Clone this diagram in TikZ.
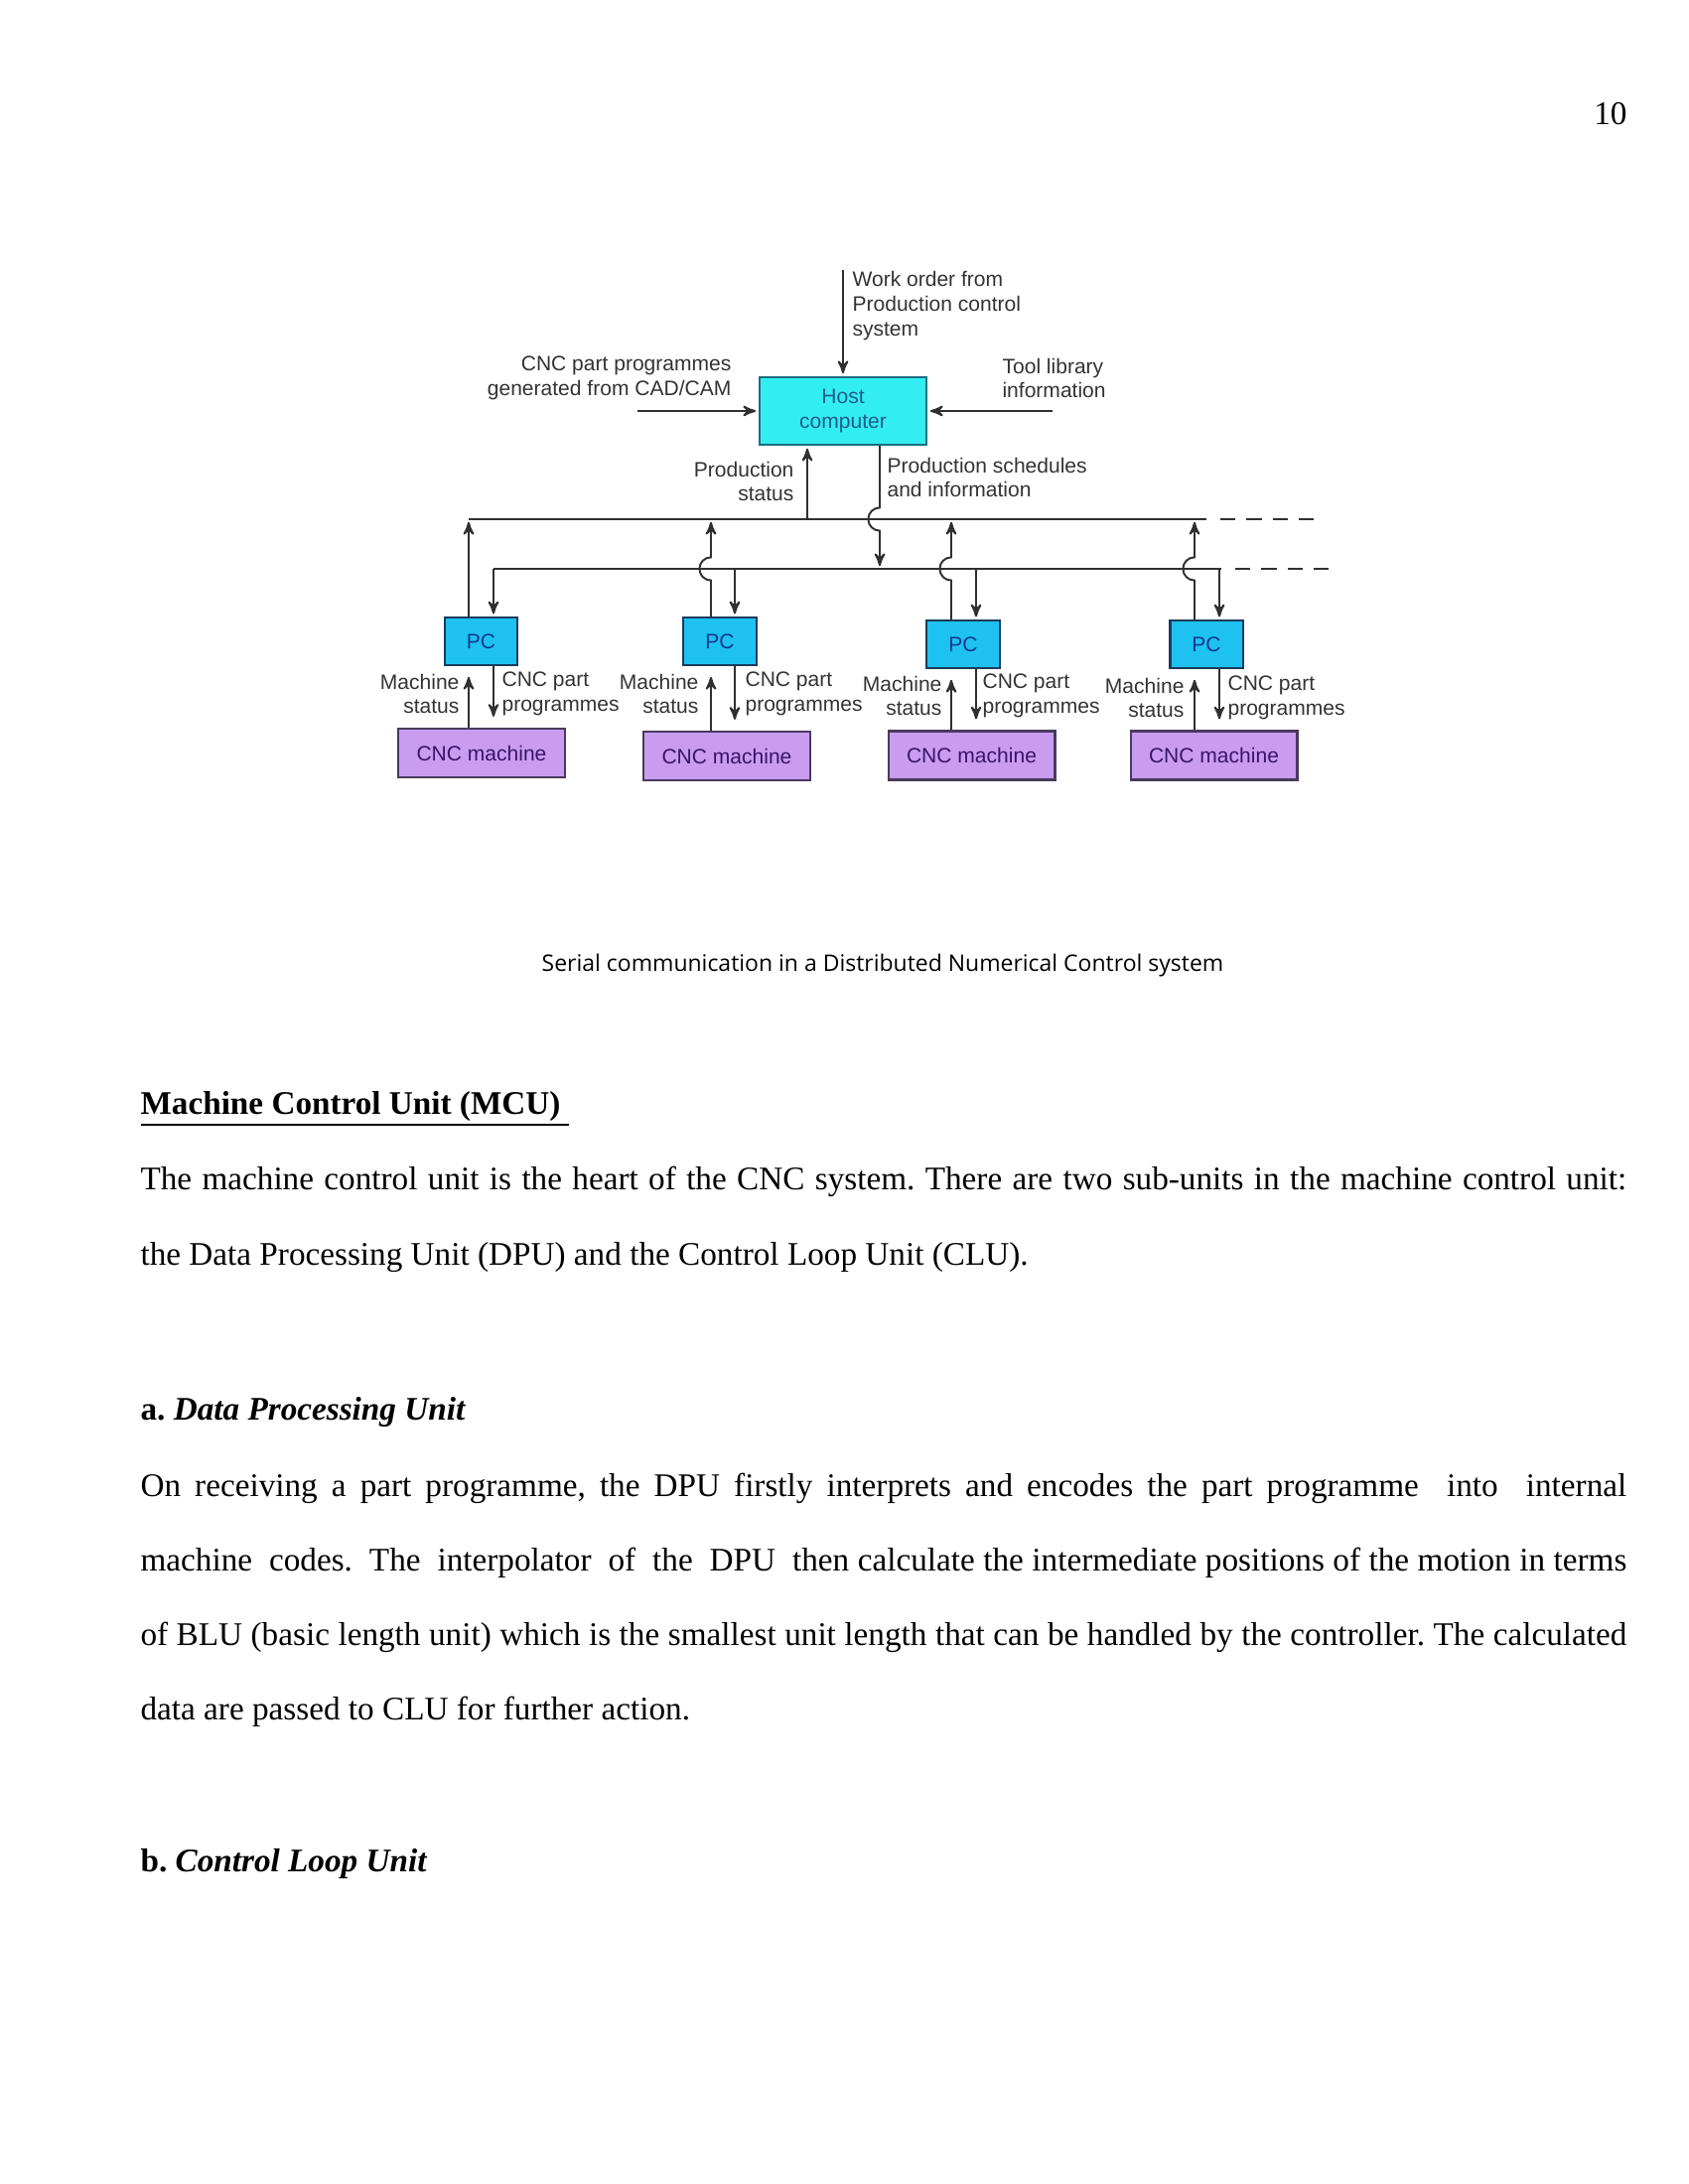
\documentclass[tikz,border=0pt]{standalone}
\usepackage{fontspec}
\setmainfont{Liberation Serif}
\newfontfamily\diagfont{Liberation Sans}
\newfontfamily\capfont{Open Sans}
\usepackage{tikz}
\usetikzlibrary{arrows}
\frenchspacing

\definecolor{linegray}{HTML}{303030}
\definecolor{textgray}{HTML}{333333}
\definecolor{hostfill}{HTML}{33EEF0}
\definecolor{hostedge}{HTML}{1A6E80}
\definecolor{hosttext}{HTML}{1F5C8A}
\definecolor{pcfill}{HTML}{1EC2F0}
\definecolor{pcedge}{HTML}{1A3C5C}
\definecolor{pctext}{HTML}{0C3A8C}
\definecolor{cncfill}{HTML}{C99CF0}
\definecolor{cncedge}{HTML}{4A3A5E}
\definecolor{cnctext}{HTML}{3A1466}

\begin{document}
\begin{tikzpicture}[x=0.0127cm,y=-0.0127cm,>=stealth',shorten >=1pt,
  wire/.style={draw=linegray,line width=0.7pt},
  lbl/.style={font=\diagfont\fontsize{7.6}{9}\selectfont,text=textgray,inner sep=0pt},
  host node/.style={draw=hostedge,fill=hostfill,line width=0.8pt,minimum width=2.13cm,
    minimum height=0.86cm,inner sep=0pt,align=center,
    font=\diagfont\fontsize{7.6}{9}\selectfont,text=hosttext},
  pc node/.style={draw=pcedge,fill=pcfill,line width=0.8pt,minimum width=0.93cm,
    minimum height=0.6cm,inner sep=0pt,font=\diagfont\fontsize{7.6}{9}\selectfont,text=pctext},
  cnc node/.style={draw=cncedge,fill=cncfill,line width=0.8pt,minimum width=2.13cm,
    minimum height=0.62cm,inner sep=0pt,font=\diagfont\fontsize{7.6}{9}\selectfont,text=cnctext},
  body/.style={font=\fontsize{12}{14}\selectfont,inner sep=0pt,anchor=base west}]

  \fill[white] (0,0) rectangle (1700,2200);
  \useasboundingbox (0,0) rectangle (1700,2200);

  \node[body,anchor=base east] (pageno) at (1639,126) {10};

  % host and the lines into it
  \node[host node] (host) at (849,414) {Host\\computer};
  \coordinate (wo) at (849,272);
  \coordinate (cad) at (642,414);
  \coordinate (tool) at (1060,414);
  \coordinate (pst) at (813,523);
  \coordinate (ps) at (886,573);

  \node[lbl,anchor=west,align=left] (wolbl) at (858,308) {Work order from\\Production control\\system};
  \node[lbl,anchor=east,align=right] (cadlbl) at (737,381) {CNC part programmes\\generated from CAD/CAM};
  \node[lbl,anchor=west,align=left] (toollbl) at (1009,381) {Tool library\\information};
  \node[lbl,anchor=east,align=right] (pstlbl) at (800,485) {Production\\status};
  \node[lbl,anchor=west,align=left] (pslbl) at (893,481) {Production schedules\\and information};

  % PCs and CNC machines
  \node[pc node] (pc1) at (484.5,646) {PC};
  \node[pc node] (pc2) at (725,646) {PC};
  \node[pc node] (pc3) at (970,649) {PC};
  \node[pc node] (pc4) at (1215,649) {PC};

  \node[cnc node] (cnc1) at (485,758.5) {CNC machine};
  \node[cnc node] (cnc2) at (732,761.5) {CNC machine};
  \node[cnc node] (cnc3) at (978.5,761) {CNC machine};
  \node[cnc node] (cnc4) at (1222.5,761) {CNC machine};

  % bus taps
  \coordinate (u1) at (472,523);
  \coordinate (u2) at (716,523);
  \coordinate (u3) at (958,523);
  \coordinate (u4) at (1203,523);
  \coordinate (d1) at (497,573);
  \coordinate (d2) at (740,573);
  \coordinate (d3) at (983,573);
  \coordinate (d4) at (1228,573);
  \coordinate (bus1e) at (1218,523);
  \coordinate (bus1d) at (1229,523);
  \coordinate (bus1x) at (1327,523);
  \coordinate (bus2e) at (1233,573);
  \coordinate (bus2d) at (1244,573);
  \coordinate (bus2x) at (1348,573);

  \draw[wire] (u1) -- (bus1e);
  \draw[wire] (d1) -- (bus2e);
  \draw[wire,dash pattern=on 5.5pt off 4pt] (bus1d) -- (bus1x);
  \draw[wire,dash pattern=on 5.5pt off 4pt] (bus2d) -- (bus2x);

  \draw[wire,->] (wo) -- (host.north);
  \draw[wire,->] (cad) -- (host.west);
  \draw[wire,->] (tool) -- (host.east);
  \draw[wire,->] (pst) -- (host.south -| pst);
  \draw[wire,->] (host.south -| ps) -- ([yshift=4.2pt]ps |- u1)
    arc[start angle=90,end angle=270,radius=4.2pt] -- (ps);

  % PC to bus
  \draw[wire,->] (pc1.north -| u1) -- (u1);
  \draw[wire,->] (pc2.north -| u2) -- ([yshift=-4.2pt]u2 |- d1)
    arc[start angle=270,end angle=90,radius=4.2pt] -- (u2);
  \draw[wire,->] (pc3.north -| u3) -- ([yshift=-4.2pt]u3 |- d1)
    arc[start angle=270,end angle=90,radius=4.2pt] -- (u3);
  \draw[wire,->] (pc4.north -| u4) -- ([yshift=-4.2pt]u4 |- d1)
    arc[start angle=270,end angle=90,radius=4.2pt] -- (u4);
  \draw[wire,->] (d1) -- (pc1.north -| d1);
  \draw[wire,->] (d2) -- (pc2.north -| d2);
  \draw[wire,->] (d3) -- (pc3.north -| d3);
  \draw[wire,->] (d4) -- (pc4.north -| d4);

  % PC to CNC machine
  \draw[wire,->,shorten >=4pt] (cnc1.north -| u1) -- (pc1.south -| u1);
  \draw[wire,->,shorten >=4pt] (pc1.south -| d1) -- (cnc1.north -| d1);
  \draw[wire,->,shorten >=4pt] (cnc2.north -| u2) -- (pc2.south -| u2);
  \draw[wire,->,shorten >=4pt] (pc2.south -| d2) -- (cnc2.north -| d2);
  \draw[wire,->,shorten >=4pt] (cnc3.north -| u3) -- (pc3.south -| u3);
  \draw[wire,->,shorten >=4pt] (pc3.south -| d3) -- (cnc3.north -| d3);
  \draw[wire,->,shorten >=4pt] (cnc4.north -| u4) -- (pc4.south -| u4);
  \draw[wire,->,shorten >=4pt] (pc4.south -| d4) -- (cnc4.north -| d4);

  \node[lbl,anchor=east,align=right] (ms1) at (463,699) {Machine\\status};
  \node[lbl,anchor=east,align=right] (ms2) at (704,699) {Machine\\status};
  \node[lbl,anchor=east,align=right] (ms3) at (949,701) {Machine\\status};
  \node[lbl,anchor=east,align=right] (ms4) at (1193,703) {Machine\\status};
  \node[lbl,anchor=west,align=left] (cp1) at (505,699) {CNC part\\programmes};
  \node[lbl,anchor=west,align=left] (cp2) at (750,699) {CNC part\\programmes};
  \node[lbl,anchor=west,align=left] (cp3) at (989,701) {CNC part\\programmes};
  \node[lbl,anchor=west,align=left] (cp4) at (1236,703) {CNC part\\programmes};

  \node[font=\capfont\fontsize{8.3}{10}\selectfont,inner sep=0pt,anchor=base] (caption)
    at (889,978) {Serial communication in a Distributed Numerical Control system};

  % text of the page
  \node[body] (mcu) at (141,1122) {\textbf{\underline{Machine Control Unit (MCU)~}}};
  \node[body] (mcu1) at (141,1198) {\makebox[19cm][s]{The machine control unit is the heart of the CNC system. There are two sub-units in the machine control unit:}};
  \node[body] (mcu2) at (141,1274) {the Data Processing Unit (DPU) and the Control Loop Unit (CLU).};

  \node[body] (dpu) at (141,1430) {\textbf{a.} \textbf{\textit{Data Processing Unit}}};
  \node[body] (dpu1) at (141,1507) {\makebox[19cm][s]{On receiving a part programme, the DPU firstly interprets and encodes the part programme\ \ into\ \ internal}};
  \node[body] (dpu2) at (141,1582) {\makebox[19cm][s]{machine\ \ codes.\ \ The\ \ interpolator\ \ of\ \ the\ \ DPU\ \ then calculate the intermediate positions of the motion in terms}};
  \node[body] (dpu3) at (141,1657) {\makebox[19cm][s]{of BLU (basic length unit) which is the smallest unit length that can be handled by the controller. The calculated}};
  \node[body] (dpu4) at (141,1732) {data are passed to CLU for further action.};

  \node[body] (clu) at (141,1885) {\textbf{b.} \textbf{\textit{Control Loop Unit}}};

\end{tikzpicture}
\end{document}
